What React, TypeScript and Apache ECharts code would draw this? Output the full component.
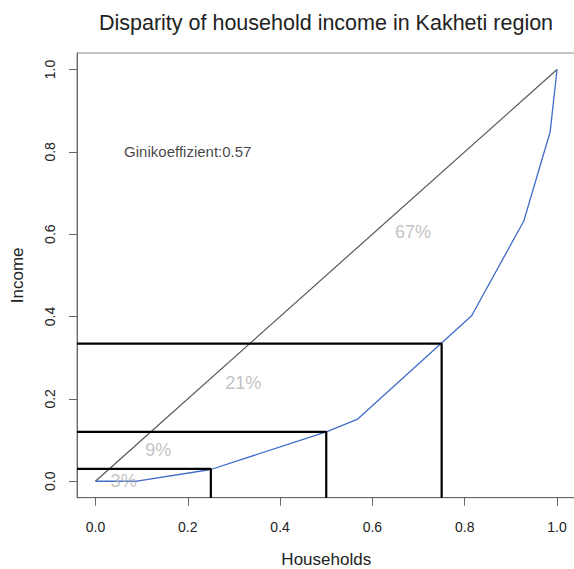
import React, { useEffect, useRef } from "react";
import * as echarts from "echarts";

const lorenzX = [0, 0.09, 0.25, 0.5, 0.567, 0.815, 0.928, 0.985, 1];
const lorenzY = [0, 0, 0.0285, 0.12, 0.15, 0.402, 0.632, 0.848, 1];
const equalityX = [0, 1];
const equalityY = [0, 1];
const quantileX = [0.25, 0.5, 0.75];
const quantileY = [0.03, 0.12, 0.334];
const shareLabels = ["3%", "9%", "21%", "67%"];
const shareLabelX = [0.061, 0.136, 0.32, 0.688];
const shareLabelY = [0.0, 0.077, 0.238, 0.606];
const giniText = "Ginikoeffizient:0.57";
const giniPos = [0.2, 0.8];
const tickValues = [0, 0.2, 0.4, 0.6, 0.8, 1.0];
const axisMin = -0.04;
const axisMax = 1.04;

export default function App() {
  const ref = useRef<HTMLDivElement>(null);
  useEffect(() => {
    if (!ref.current) return;
    const chart = echarts.init(ref.current, undefined, { renderer: "svg" });
    const font = "'Liberation Sans', Arial, sans-serif";
    const axisCommon = {
      type: "value" as const,
      min: axisMin,
      max: axisMax,
      nameLocation: "middle" as const,
      nameTextStyle: { fontFamily: font, fontSize: 17, color: "#222" },
      splitLine: { show: false },
      axisLine: { show: true, onZero: false, lineStyle: { color: "#666", width: 1 } },
      axisTick: { show: true, length: 8, customValues: tickValues, lineStyle: { color: "#666" } },
    };
    const quantileSeries = quantileX.map((qx, i) => ({
      type: "line",
      data: [
        [axisMin, quantileY[i]],
        [qx, quantileY[i]],
        [qx, axisMin],
      ],
      symbol: "none",
      lineStyle: { color: "#000", width: 2.2 },
      silent: true,
      z: 3,
    }));
    chart.setOption({
      animation: false,
      title: {
        text: "Disparity of household income in Kakheti region",
        left: 321,
        top: 7,
        textAlign: "center",
        textStyle: { fontFamily: font, fontSize: 21.5, fontWeight: "normal", color: "#222" },
      },
      grid: {
        left: 77,
        top: 53,
        width: 498.5,
        height: 444.7,
        show: true,
        borderColor: "#888",
        borderWidth: 1,
        outerBoundsMode: "none",
        containLabel: false,
      },
      xAxis: {
        ...axisCommon,
        name: "Households",
        nameGap: 53,
        axisLabel: {
          customValues: tickValues,
          formatter: (v: number) => v.toFixed(1),
          fontFamily: font,
          fontSize: 14,
          color: "#222",
          margin: 22,
        },
      },
      yAxis: {
        ...axisCommon,
        name: "Income",
        nameGap: 51,
        axisLabel: {
          customValues: tickValues,
          formatter: (v: number) => v.toFixed(1),
          fontFamily: font,
          fontSize: 14,
          color: "#222",
          rotate: 90,
          margin: 20,
        },
      },
      series: [
        {
          type: "line",
          data: equalityX.map((x, i) => [x, equalityY[i]]),
          symbol: "none",
          lineStyle: { color: "#555", width: 1.2 },
          silent: true,
          z: 2,
        },
        {
          type: "line",
          data: lorenzX.map((x, i) => [x, lorenzY[i]]),
          symbol: "none",
          lineStyle: { color: "#3f6cc9", width: 1.3 },
          silent: true,
          z: 2,
        },
        ...quantileSeries,
        {
          type: "scatter",
          data: shareLabels.map((name, i) => ({ name, value: [shareLabelX[i], shareLabelY[i]] })),
          symbolSize: 0,
          silent: true,
          z: 4,
          label: {
            show: true,
            position: "inside",
            formatter: (p: any) => p.name,
            fontFamily: font,
            fontSize: 18,
            color: "#b3b3b3",
          },
        },
        {
          type: "scatter",
          data: [{ name: giniText, value: giniPos }],
          symbolSize: 0,
          silent: true,
          z: 4,
          label: {
            show: true,
            position: "inside",
            formatter: (p: any) => p.name,
            fontFamily: font,
            fontSize: 15,
            color: "#111",
          },
        },
      ],
    });
    return () => chart.dispose();
  }, []);
  return (
    <div
      ref={ref}
      style={{ position: "fixed", left: 0, top: 0, width: 580, height: 569, background: "#fff" }}
    />
  );
}
